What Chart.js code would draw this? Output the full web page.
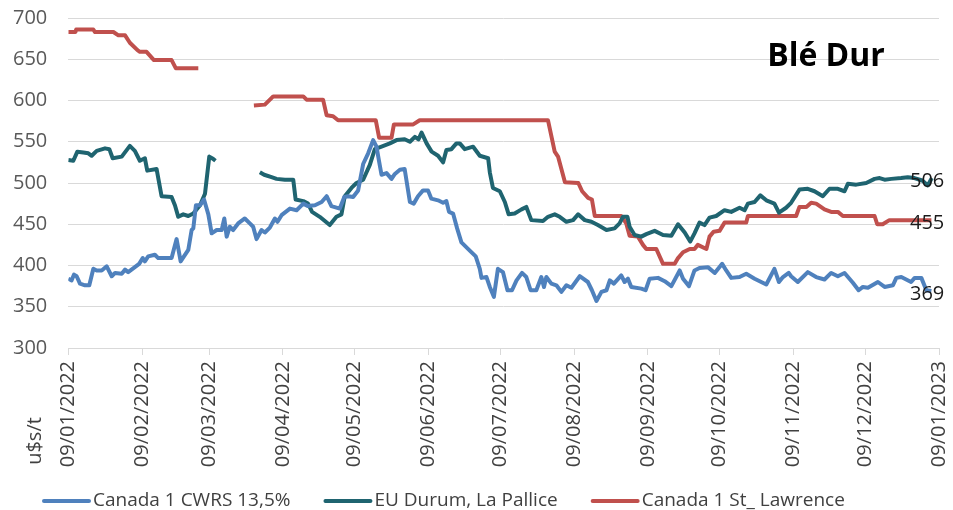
<!DOCTYPE html>
<html>
<head>
<meta charset="utf-8">
<script src="https://cdn.jsdelivr.net/npm/chart.js@4/dist/chart.umd.min.js"></script>
<style>
  html, body { margin: 0; padding: 0; background: #fff; }
  canvas { display: block; }
</style>
</head>
<body>
<canvas id="myChart" width="953" height="510"></canvas>
<script>
// x values are days counted from 09/01/2022
const tickLabels = ['09/01/2022', '09/02/2022', '09/03/2022', '09/04/2022', '09/05/2022', '09/06/2022',
  '09/07/2022', '09/08/2022', '09/09/2022', '09/10/2022', '09/11/2022', '09/12/2022', '09/01/2023'];
const seriesNames = ['Canada 1 CWRS 13,5%', 'EU Durum, La Pallice', 'Canada 1 St_ Lawrence'];
const seriesColors = ['#4f81bd', '#1f6470', '#c0504d'];

const cwrsDays = [0, 1.4, 2.4, 3.5, 4.9, 7, 8.8, 10.5, 11.9, 14, 16.1, 18.2, 19.6, 22.4, 23.8, 25.1, 27.9, 29.7,
  31.2, 32.1, 33.5, 36.3, 37.7, 43.3, 45.4, 47.1, 50.3, 51.7, 52.4, 53.5, 55.2, 56.9, 58.7, 60.1, 62.2, 64.3,
  65.4, 66.4, 67.7, 69.1, 71.2, 74, 76.1, 77.5, 78.9, 81, 82.4, 84.5, 86.6, 87.7, 89.4, 92.9, 95.7, 98.5, 100.5,
  103.4, 106.2, 108.3, 110.3, 113.8, 115.7, 117.3, 119.4, 121.5, 123.6, 125.7, 127.8, 129.2, 130.3, 131.3,
  133.4, 135.5, 136.9, 139, 141, 143.2, 144.8, 146.6, 148.7, 150.8, 152.2, 155, 157.1, 158.5, 159.6, 161.3,
  163, 164.8, 168.3, 170.8, 172.5, 173.2, 175.3, 176.7, 178.4, 180.1, 182.2, 184.1, 186, 187.9, 190.2, 192,
  193.8, 196.2, 198.3, 199.4, 200.4, 202.5, 204.6, 206.7, 208.8, 210.9, 214.4, 217.8, 219.5, 221.4, 223.5,
  225.6, 227, 228.7, 231.8, 233.2, 234.6, 236, 240.2, 242, 243.7, 247.2, 250, 252.8, 256.3, 257.7, 260.2,
  262.5, 264.6, 268.1, 271, 274.1, 275.8, 277.9, 281.4, 284.2, 287.7, 292.6, 296, 297.9, 299.6, 302, 303,
  305.8, 310, 313.5, 317, 319.8, 322.6, 325.4, 328.9, 331.3, 333.1, 335.2, 339.4, 342.2, 345.7, 347.1, 349.2,
  353.3, 354.8, 357.6, 359.7, 361.8];
const cwrsValues = [384, 382, 389, 387, 378, 376, 376, 396, 394, 394, 399, 387, 391, 390, 395, 392, 398, 402,
  409, 405, 411, 413, 409, 409, 432, 405, 419, 443, 445, 473, 473, 480, 462, 439, 443, 443,
  457, 435, 447, 443, 451, 457, 451, 447, 432, 443, 440, 446, 457, 453, 461, 469, 467, 475, 472,
  473, 477, 484, 472, 469, 483, 484, 483, 491, 523, 536, 552, 544, 526, 510,
  512, 505, 511, 516, 517, 477, 475, 484, 491, 491, 481, 479, 476, 478, 465, 463,
  445, 428, 418, 411, 396, 385, 386, 374, 362, 396, 392, 370, 370, 382, 391, 386,
  370, 370, 386, 374, 386, 378, 376, 368, 376, 373, 387, 380, 370, 357, 368,
  370, 382, 378, 388, 380, 384, 374, 372, 370, 384, 385, 381, 375, 394, 384, 375,
  394, 397, 398, 391, 402, 394, 385, 386, 390, 384, 377, 396, 380, 386, 391, 387,
  380, 392, 386, 383, 391, 387, 391, 379, 370, 374, 373, 380, 374, 376, 385, 386,
  380, 385, 385, 370, 369];

const euDays = [0, 2.1, 3.8, 6.3, 8.4, 9.8, 11.9, 15.4, 17.2, 18.6, 22.4, 25.8, 27.9, 30, 32.1, 33.1, 37, 39.1,
  43.3, 44.7, 46.1, 48.2, 50.3, 52.4, 55.2, 57.3, 59.1, 60.8, 61.7, 70, 80.3, 82.1, 85.2, 87.3, 90.8, 94.3,
  95.3, 98.5, 100.5, 102.2, 105.4, 109.6, 112.4, 114.5, 115.9, 118.7, 120.8, 123.6, 126.4, 128.5, 131.3,
  134.8, 137.6, 141, 143.2, 145.3, 146.8, 148.1, 150.2, 152.3, 155, 157.1, 158.5, 160.6, 162.7, 164.1, 166.2,
  169.7, 172.5, 176, 176.7, 178, 180.9, 183, 184.6, 187.1, 190, 192, 194.1, 199, 201.1, 203.9, 206, 208.8,
  211.6, 213.7, 216.5, 219.3, 222, 225.6, 229, 231.1, 232.5, 234.4, 235.3, 237.4, 240.2, 242.3, 245.8, 249.3,
  252.8, 255.6, 258.4, 260.7, 262.5, 264.6, 266.7, 268.8, 271.6, 275.1, 277.9, 281.4, 283.5, 284.9, 287.7,
  290.1, 292.6, 296, 297.9, 300.9, 303, 306.5, 310, 312.8, 316.3, 319.1, 322.6, 325.4, 326.8, 330.3, 334.5,
  338, 340.1, 342.2, 345, 349.1, 351.9, 354.7, 358, 360.3, 362];
const euValues = [528, 527, 538, 537, 536, 533, 539, 542, 541, 530, 532, 545, 539, 527, 530, 515, 517, 484,
  483, 473, 459, 462, 460, 463, 473, 487, 532, 529, 527, null, 513, 510, 507, 505, 504, 504,
  480, 478, 475, 465, 459, 449, 459, 462, 484, 494, 500, 504, 522, 541, 544,
  548, 552, 553, 550, 556, 553, 561, 548, 538, 533, 525, 540, 541, 548, 548, 541,
  544, 533, 530, 513, 494, 490, 477, 462, 463, 468, 471, 455, 454, 459, 462, 459, 453,
  455, 462, 455, 453, 449, 443, 445, 451, 459, 459, 447, 437, 435, 438, 442, 437,
  436, 450, 440, 429, 439, 452, 449, 458, 460, 467, 465, 470, 467, 475, 477,
  485, 479, 475, 464, 470, 476, 492, 493, 490, 484, 493, 493, 490, 499, 498, 500,
  505, 506, 504, 505, 506, 507, 506, 503, 497, 506];

const stlDays = [0, 3, 3.3, 10.5, 11.2, 18.9, 21, 23.8, 25.8, 29, 30, 32.8, 35.9, 43.3, 45.1, 54.5, 65,
  77.8, 82.4, 85.9, 98.5, 99.9, 106.8, 108.3, 111, 113.1, 128.9, 130.3, 135.5, 136.5, 144.6, 147.3, 201.1,
  203.9, 205.3, 208.2, 213.8, 215.4, 217.9, 219.5, 220.7, 231.8, 233.9, 235.3, 238.8, 240.9, 242.3, 246.5,
  249.3, 254.2, 255.6, 257.7, 260.5, 262.5, 263.9, 267.5, 268.8, 270.5, 273, 275.1, 284.2, 284.9, 305.1,
  306.5, 309.4, 311.4, 313.5, 317, 319.8, 322.6, 324.7, 338, 339.1, 341.4, 344.2, 361.8];
const stlValues = [683, 683, 686, 686, 683, 683, 679, 679, 670, 661, 659, 659, 649, 649, 639, 639, null,
  594, 595, 605, 605, 601, 601, 582, 581, 576, 576, 555, 555, 571, 571, 576, 576,
  538, 532, 501, 500, 490, 482, 480, 460, 460, 451, 436, 435, 425, 420, 420,
  402, 402, 409, 416, 420, 420, 425, 420, 435, 441, 442, 452, 452, 460, 460,
  471, 471, 476, 475, 468, 465, 465, 460, 460, 450, 450, 455, 455];

const dayMs = 86400000;
const startDay = Date.UTC(2022, 0, 9);
const tickDays = tickLabels.map(s => {
  const [d, m, y] = s.split('/').map(Number);
  return (Date.UTC(y, m - 1, d) - startDay) / dayMs;
});
const toPoints = (days, vals) => days.map((d, i) => ({ x: d, y: vals[i] }));

const FONT = '"Open Sans", "Noto Sans", sans-serif';

const extras = {
  id: 'extras',
  afterDraw(chart) {
    const { ctx, chartArea, scales } = chart;
    ctx.save();
    // title
    ctx.font = 'bold 32px ' + FONT;
    ctx.fillStyle = '#000';
    ctx.textAlign = 'center';
    ctx.textBaseline = 'middle';
    ctx.fillText('Blé Dur', 826, 57);
    // last values at the right end
    ctx.font = '20px ' + FONT;
    ctx.fillStyle = '#1a1a1a';
    ctx.textAlign = 'left';
    chart.data.datasets.forEach(ds => {
      const last = ds.data[ds.data.length - 1].y;
      ctx.fillText(String(last), chartArea.right - 29, scales.y.getPixelForValue(last) + 3);
    });
    // y title, bottom left
    ctx.save();
    ctx.translate(35, 441);
    ctx.rotate(-Math.PI / 2);
    ctx.textAlign = 'center';
    ctx.fillStyle = '#404040';
    ctx.fillText('u$s/t', 0, 0);
    ctx.restore();
    // legend
    ctx.font = '19px ' + FONT;
    ctx.textAlign = 'left';
    let x = 44;
    const y = 501;
    chart.data.datasets.forEach(ds => {
      ctx.strokeStyle = ds.borderColor;
      ctx.lineWidth = 4;
      ctx.lineCap = 'round';
      ctx.beginPath();
      ctx.moveTo(x, y);
      ctx.lineTo(x + 45, y);
      ctx.stroke();
      ctx.fillStyle = '#404040';
      ctx.fillText(ds.label, x + 49, y);
      x += 49 + ctx.measureText(ds.label).width + 35;
    });
    ctx.restore();
  }
};

const ctx = document.getElementById('myChart').getContext('2d');
const myChart = new Chart(ctx, {
  type: 'line',
  data: {
    datasets: [
      { label: seriesNames[0], data: toPoints(cwrsDays, cwrsValues) },
      { label: seriesNames[1], data: toPoints(euDays, euValues) },
      { label: seriesNames[2], data: toPoints(stlDays, stlValues) }
    ].map((ds, i) => Object.assign(ds, {
      borderColor: seriesColors[i],
      backgroundColor: seriesColors[i],
      borderWidth: 4,
      pointRadius: 0,
      tension: 0,
      spanGaps: false,
      borderJoinStyle: 'round'
    }))
  },
  options: {
    responsive: false,
    animation: false,
    layout: { padding: { top: 18, right: 14, left: 0, bottom: 0 } },
    plugins: {
      legend: { display: false },
      tooltip: { enabled: false }
    },
    scales: {
      x: {
        type: 'linear',
        min: 0,
        max: 365,
        afterBuildTicks: s => { s.ticks = tickDays.map(v => ({ value: v })); },
        afterFit: s => { s.height = 162; s.paddingLeft = 0; s.paddingRight = 0; },
        ticks: {
          autoSkip: false,
          minRotation: 90,
          maxRotation: 90,
          padding: 6,
          color: '#404040',
          font: { family: FONT, size: 20 },
          callback: (v, i) => tickLabels[i]
        },
        grid: { drawOnChartArea: false, drawTicks: true, tickLength: 7, color: '#d9d9d9' },
        border: { color: '#d9d9d9' }
      },
      y: {
        min: 300,
        max: 700,
        afterFit: s => { s.width = 68.3; s.paddingTop = 0; s.paddingBottom = 0; },
        ticks: {
          stepSize: 50,
          padding: 21,
          color: '#595959',
          font: { family: FONT, size: 20 }
        },
        grid: { color: '#d9d9d9', drawTicks: false },
        border: { display: false }
      }
    }
  },
  plugins: [extras]
});
</script>
</body>
</html>
